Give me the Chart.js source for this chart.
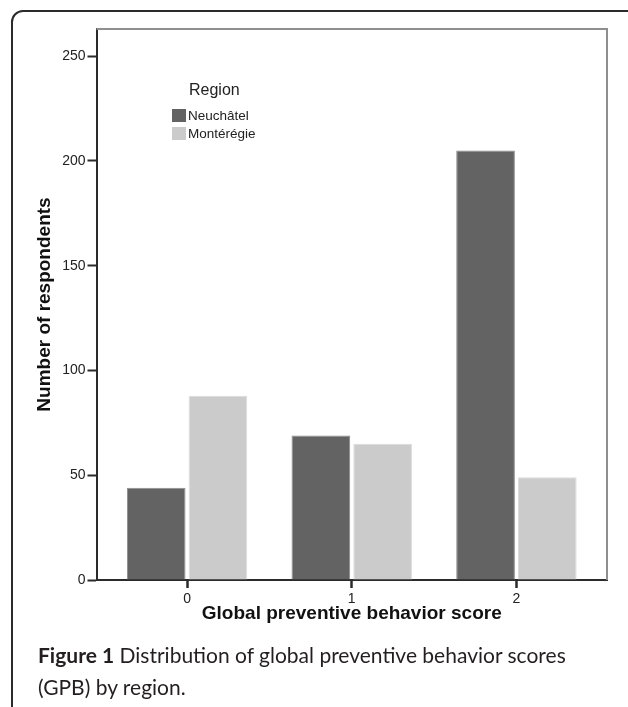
<!DOCTYPE html>
<html>
<head>
<meta charset="utf-8">
<script src="https://cdn.jsdelivr.net/npm/chart.js@4/dist/chart.umd.min.js"></script>
<style>
  html, body { margin: 0; padding: 0; background: #fff; overflow: hidden; }
  #frame {
    position: absolute; left: 11px; top: 10px; width: 700px; height: 800px;
    border: 2px solid #2b2b2b; border-radius: 12px; box-sizing: border-box;
  }
  #wrap { position: absolute; left: 0; top: 0; width: 628px; height: 707px; }
  #caption {
    position: absolute; left: 38px; top: 639px; width: 545px;
    font-family: Lato, "Noto Sans", sans-serif; font-size: 21px; line-height: 32px;
    color: #231f20;
  }
  #caption b { font-weight: bold; }
</style>
</head>
<body>
<div id="frame"></div>
<div id="wrap"><canvas id="gpbChart" width="628" height="707"></canvas></div>
<div id="caption"><b>Figure 1</b> Distribution of global preventive behavior scores (GPB) by region.</div>
<script>
let scores = [0, 1, 2],
  regions = ["Neuchâtel", "Montérégie"],
  neuchatel = [44, 69, 205],
  monteregie = [88, 65, 49],
  yTicks = [0, 50, 100, 150, 200, 250],
  barColors = ["#636363", "#cbcbcb"],
  barBorders = ["#8a8a8a", "#dcdcdc"];

let toPoints = (values) => scores.map((s, i) => ({ x: s, y: values[i] }));

let axisFont = { family: "'Liberation Sans', Arial, sans-serif", size: 14 };
let titleFont = { family: "'Liberation Sans', Arial, sans-serif", size: 19, weight: "bold" };

// plot frame (grey top/right) and the legend drawn inside the plot
let boxAndLegend = {
  id: "boxAndLegend",
  beforeDatasetsDraw(chart) {
    let { ctx, chartArea: a } = chart;
    ctx.save();
    ctx.strokeStyle = "#8f8f8f";
    ctx.lineWidth = 2;
    ctx.beginPath();
    ctx.moveTo(a.left, a.top);
    ctx.lineTo(a.right, a.top);
    ctx.lineTo(a.right, a.bottom);
    ctx.stroke();
    ctx.restore();
  },
  afterDraw(chart) {
    let ctx = chart.ctx;
    ctx.save();
    ctx.fillStyle = "#222";
    ctx.textBaseline = "middle";
    ctx.font = "16px 'Liberation Sans', Arial, sans-serif";
    ctx.fillText("Region", 189, 91);
    ctx.font = "13.5px 'Liberation Sans', Arial, sans-serif";
    chart.data.datasets.forEach((ds, i) => {
      let y = 116 + i * 18;
      ctx.fillStyle = ds.backgroundColor;
      ctx.fillRect(172, y - 7, 14, 13);
      ctx.fillStyle = "#222";
      ctx.fillText(ds.label, 188, y);
    });
    ctx.restore();
  },
};

new Chart(document.getElementById("gpbChart"), {
  type: "bar",
  data: {
    datasets: regions.map((r, i) => ({
      label: r,
      data: toPoints(i == 0 ? neuchatel : monteregie),
      backgroundColor: barColors[i],
      borderColor: barBorders[i],
      borderWidth: 1,
      categoryPercentage: 0.75,
      barPercentage: 0.95,
    })),
  },
  options: {
    responsive: false,
    animation: false,
    events: [],
    layout: { padding: { left: 0, top: 29, right: 21, bottom: 67 } },
    plugins: { legend: { display: false }, tooltip: { enabled: false } },
    scales: {
      x: {
        type: "linear",
        min: -0.55,
        max: 2.55,
        offset: false,
        afterBuildTicks: (scale) => {
          scale.ticks = scores.map((v) => ({ value: v }));
        },
        afterFit: (scale) => {
          scale.height = 60;
        },
        ticks: { color: "#222", padding: 3, font: axisFont },
        grid: {
          display: true,
          offset: false,
          drawOnChartArea: false,
          drawTicks: true,
          tickLength: 8,
          color: "#2b2b2b",
          tickColor: "#2b2b2b",
          tickWidth: 2.5,
        },
        border: { color: "#2b2b2b", width: 2 },
        title: {
          display: true,
          text: "Global preventive behavior score",
          color: "#111",
          padding: { top: 0, bottom: 15 },
          font: titleFont,
        },
      },
      y: {
        min: 0,
        max: 263,
        afterBuildTicks: (scale) => {
          scale.ticks = yTicks.map((v) => ({ value: v }));
        },
        afterFit: (scale) => {
          scale.width = 96.5;
        },
        ticks: { color: "#222", padding: 2, font: axisFont },
        grid: {
          drawOnChartArea: false,
          drawTicks: true,
          tickLength: 9,
          tickColor: "#2b2b2b",
          tickWidth: 2,
        },
        border: { color: "#2b2b2b", width: 2 },
        title: {
          display: true,
          text: "Number of respondents",
          color: "#111",
          padding: { top: 33, bottom: 0 },
          font: titleFont,
        },
      },
    },
  },
  plugins: [boxAndLegend],
});
</script>
</body>
</html>
